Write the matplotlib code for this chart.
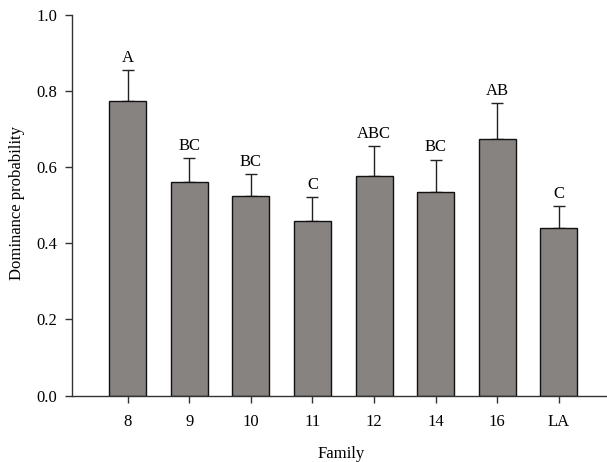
import matplotlib
matplotlib.use("Agg")
import matplotlib.pyplot as plt
import numpy as np

families = ["8", "9", "10", "11", "12", "14", "16", "LA"]
dominance = [0.774, 0.561, 0.525, 0.458, 0.576, 0.535, 0.673, 0.439]
sem = [0.081, 0.062, 0.057, 0.064, 0.079, 0.085, 0.095, 0.058]
groups = ["A", "BC", "BC", "C", "ABC", "BC", "AB", "C"]

plt.rcParams["font.family"] = ["Liberation Serif", "DejaVu Serif"]

W, H = 607, 462
fig = plt.figure(figsize=(W / 100, H / 100), dpi=100)
left, right = 71.5 / W, 1.0
bottom, top = (H - 395.5) / H, (H - 15) / H
ax = fig.add_axes([left, bottom, right - left, top - bottom])

x = np.arange(len(families))
ax.bar(x, dominance, width=0.6, color="#878381", edgecolor="#111111",
       linewidth=1.0, zorder=2)
ax.errorbar(x, dominance, yerr=[np.zeros(len(sem)), sem], fmt="none",
            ecolor="#222222", elinewidth=1.0, capsize=4.3, capthick=1.0, zorder=1)

for xi, v, e, g in zip(x, dominance, sem, groups):
    ax.annotate(g, (xi, v + e), xytext=(0, 3), textcoords="offset points",
                ha="center", va="bottom", fontsize=12)

ax.set_xlim(-0.91, 7.78)
ax.set_ylim(0, 1.0)
ax.set_xticks(x)
ax.set_xticklabels(families)
ax.set_yticks(np.arange(0, 1.01, 0.2))
ax.set_yticklabels([f"{t:.1f}" for t in np.arange(0, 1.01, 0.2)])
ax.tick_params(axis="both", direction="out", length=5, width=1.0,
               labelsize=12, color="#333333")
ax.tick_params(axis="x", pad=8)
ax.tick_params(axis="y", pad=5.5)

for s in ["top", "right"]:
    ax.spines[s].set_visible(False)
for s in ["left", "bottom"]:
    ax.spines[s].set_linewidth(1.0)
    ax.spines[s].set_color("#333333")

fig.text(341 / W, 1 - 454 / H, "Family", ha="center", va="center", fontsize=12)
fig.text(17 / W, 1 - 203.5 / H, "Dominance probability", ha="center",
         va="center", rotation=90, fontsize=12)

fig.savefig("out.png", dpi=100)
